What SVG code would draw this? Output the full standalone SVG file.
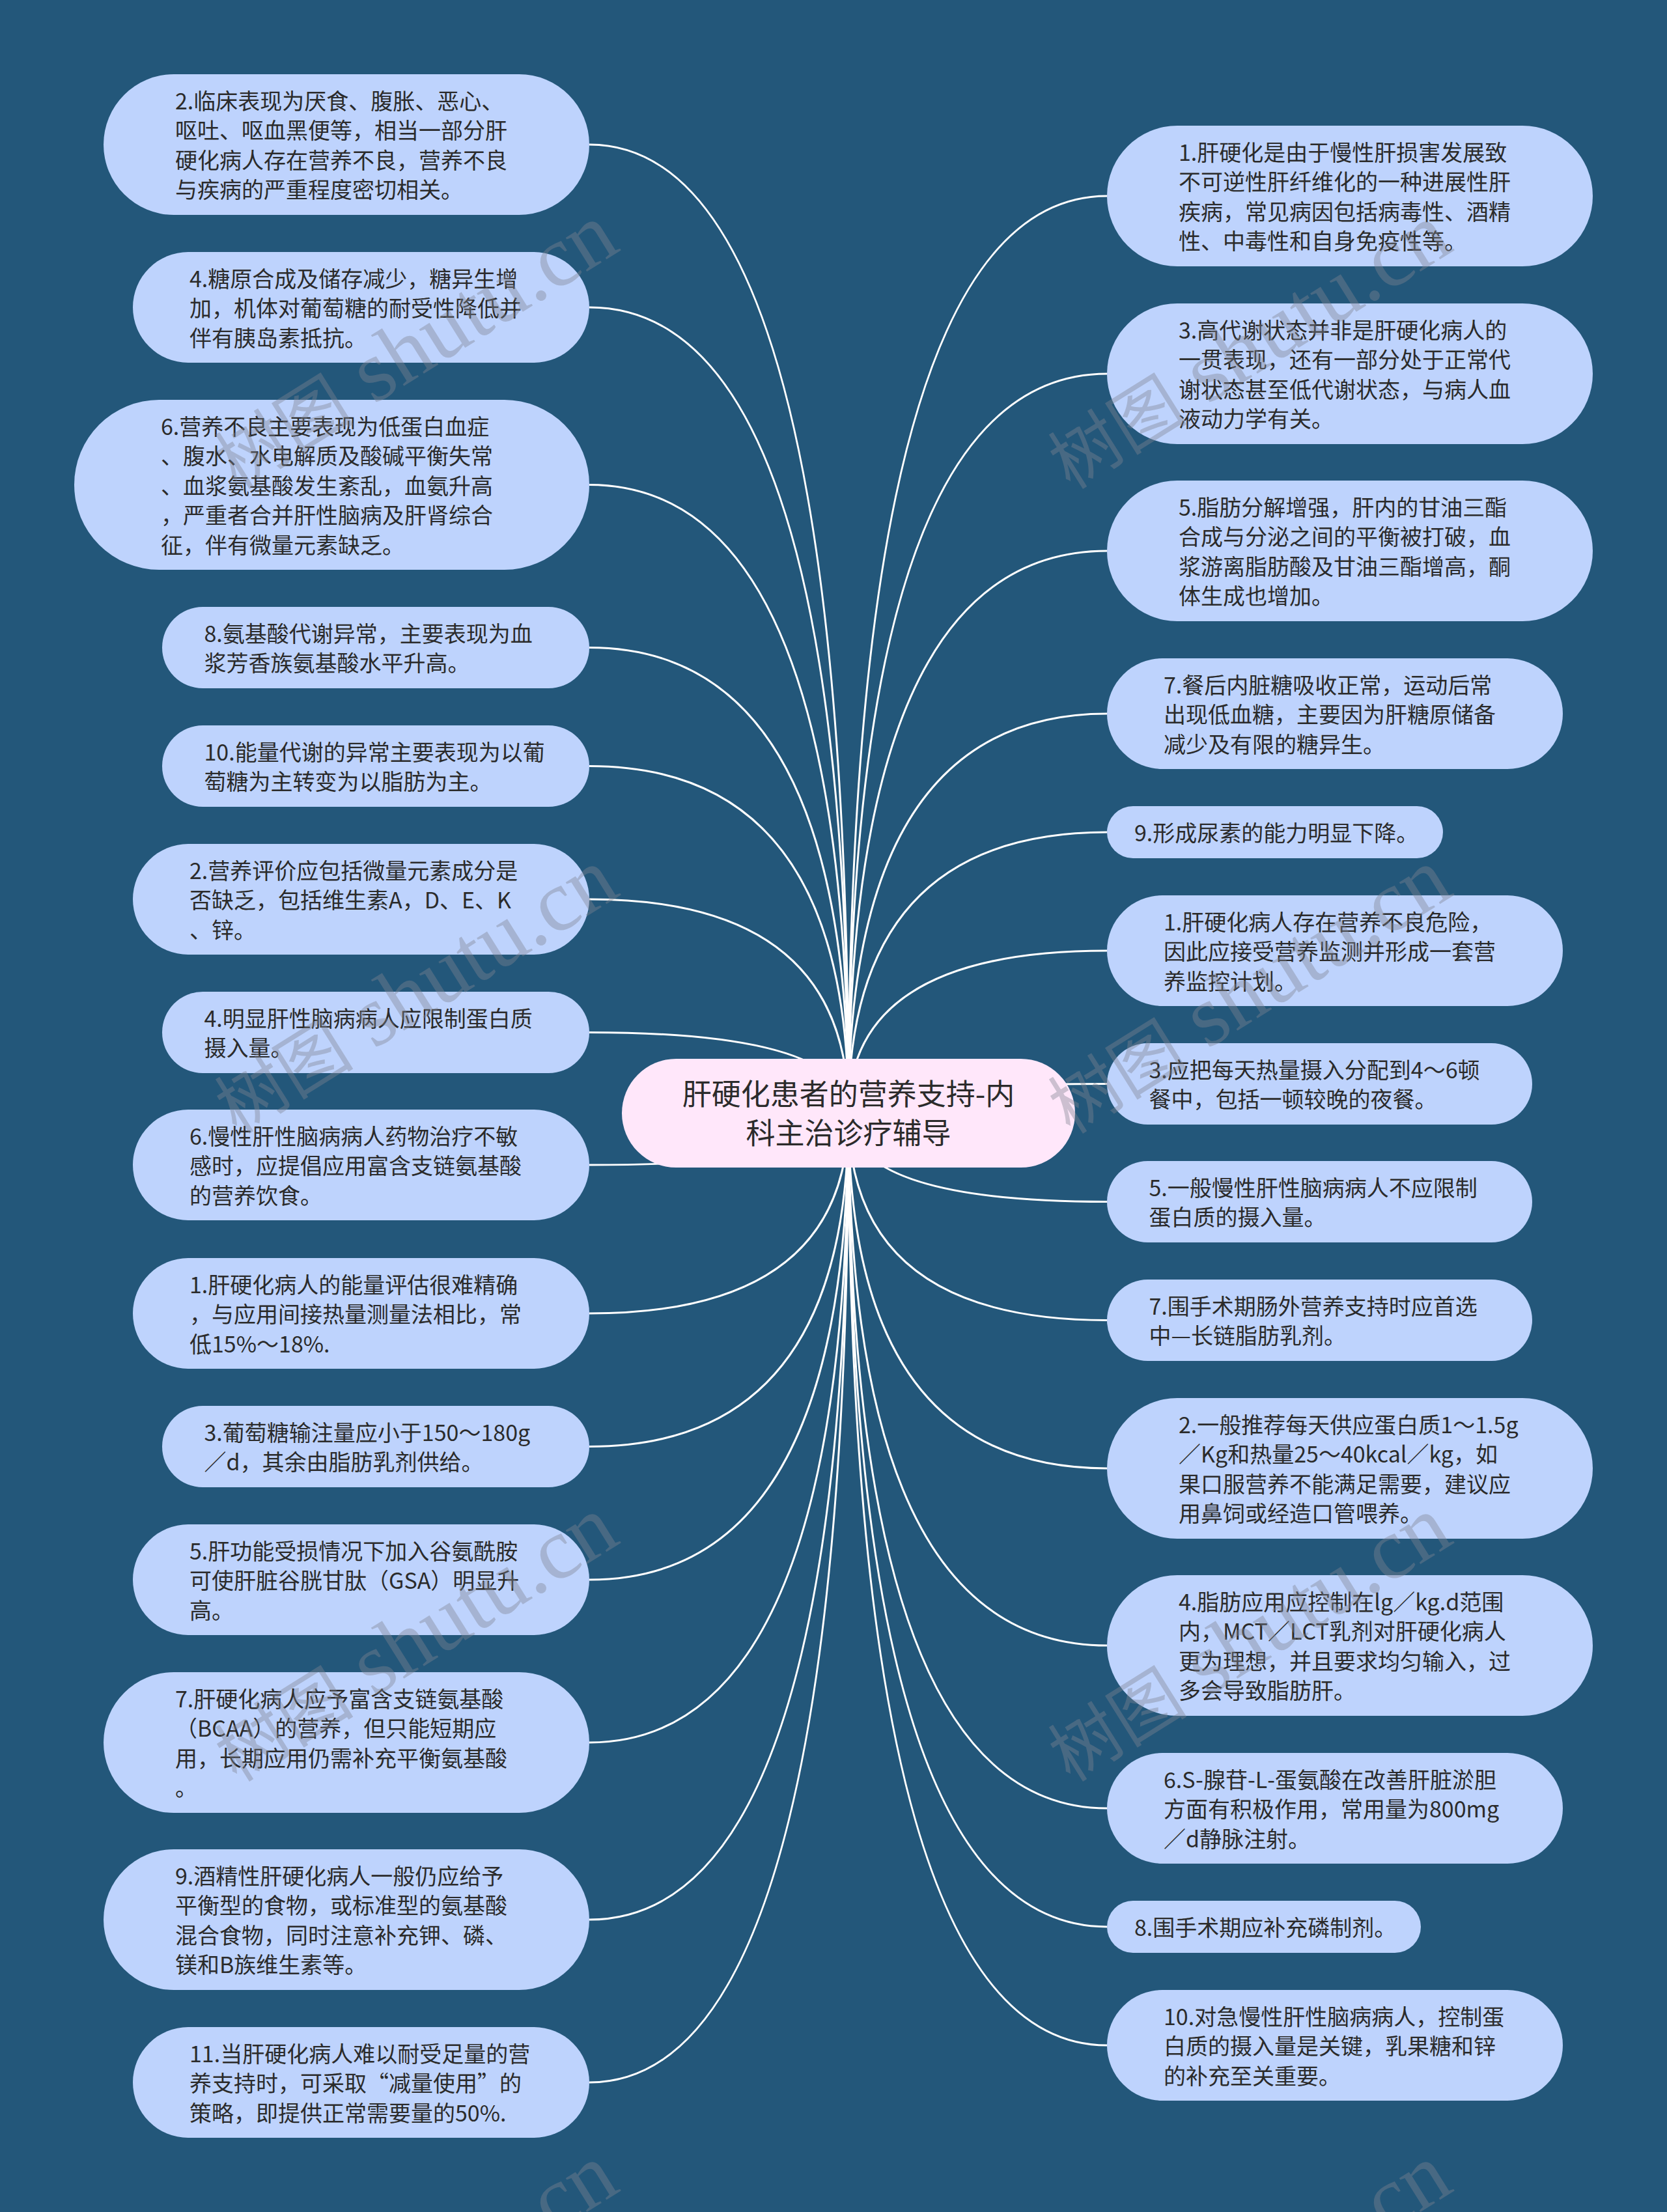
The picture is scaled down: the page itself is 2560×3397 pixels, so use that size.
<svg xmlns="http://www.w3.org/2000/svg" width="2560" height="3397" viewBox="0 0 2560 3397">
<style>
.bg{fill:#23577A}
.n rect{fill:#BED3FD}
.n text{font-family:"Noto Sans CJK SC","Noto Sans",sans-serif;font-size:34px;fill:#2b2b2b}
.c rect{fill:#FFE7FA}
.c text{font-family:"Noto Sans CJK SC","Noto Sans",sans-serif;font-size:45px;fill:#2b2b2b;text-anchor:middle}
.e path{fill:none;stroke:#FFFFFF;stroke-width:3}
.wm text{font-family:"Liberation Serif","Noto Sans CJK SC",serif;font-size:107px;fill:#7f8590;fill-opacity:0.4}
.wm .l{font-size:134px}
</style>
<rect class="bg" x="0" y="0" width="2560" height="3397"/>
<g id="connectors" class="e">
<path d="M1303 1709.5 Q1303 222 905 222"/>
<path d="M1303 1709.5 Q1303 472 905 472"/>
<path d="M1303 1709.5 Q1303 744.5 905 744.5"/>
<path d="M1303 1709.5 Q1303 994.5 905 994.5"/>
<path d="M1303 1709.5 Q1303 1176.5 905 1176.5"/>
<path d="M1303 1709.5 Q1303 1381 905 1381"/>
<path d="M1303 1709.5 Q1303 1585.5 905 1585.5"/>
<path d="M1303 1709.5 Q1303 1789 905 1789"/>
<path d="M1303 1709.5 Q1303 2017 905 2017"/>
<path d="M1303 1709.5 Q1303 2221.5 905 2221.5"/>
<path d="M1303 1709.5 Q1303 2426 905 2426"/>
<path d="M1303 1709.5 Q1303 2676 905 2676"/>
<path d="M1303 1709.5 Q1303 2948 905 2948"/>
<path d="M1303 1709.5 Q1303 3198 905 3198"/>
<path d="M1303 1709.5 Q1303 301 1700 301"/>
<path d="M1303 1709.5 Q1303 574 1700 574"/>
<path d="M1303 1709.5 Q1303 846 1700 846"/>
<path d="M1303 1709.5 Q1303 1096 1700 1096"/>
<path d="M1303 1709.5 Q1303 1278 1700 1278"/>
<path d="M1303 1709.5 Q1303 1460 1700 1460"/>
<path d="M1303 1709.5 Q1303 1664.5 1700 1664.5"/>
<path d="M1303 1709.5 Q1303 1845.5 1700 1845.5"/>
<path d="M1303 1709.5 Q1303 2027.5 1700 2027.5"/>
<path d="M1303 1709.5 Q1303 2255 1700 2255"/>
<path d="M1303 1709.5 Q1303 2527 1700 2527"/>
<path d="M1303 1709.5 Q1303 2777 1700 2777"/>
<path d="M1303 1709.5 Q1303 2959 1700 2959"/>
<path d="M1303 1709.5 Q1303 3141 1700 3141"/>
</g>
<g id="center" class="c">
<rect x="955" y="1626" width="696" height="167" rx="83.5"/>
<text><tspan x="1303" y="1697">肝硬化患者的营养支持-内</tspan><tspan x="1303" y="1757">科主治诊疗辅导</tspan></text>
</g>
<g id="L1" class="n"><rect x="159" y="114" width="746" height="216" rx="108"/>
<text><tspan x="269" y="167.5">2.临床表现为厌食、腹胀、恶心、</tspan><tspan x="269" y="213">呕吐、呕血黑便等，相当一部分肝</tspan><tspan x="269" y="258.5">硬化病人存在营养不良，营养不良</tspan><tspan x="269" y="304">与疾病的严重程度密切相关。</tspan></text></g>
<g id="L2" class="n"><rect x="204" y="387" width="701" height="170" rx="85"/>
<text><tspan x="291" y="440.5">4.糖原合成及储存减少，糖异生增</tspan><tspan x="291" y="486">加，机体对葡萄糖的耐受性降低并</tspan><tspan x="291" y="531.5">伴有胰岛素抵抗。</tspan></text></g>
<g id="L3" class="n"><rect x="114" y="614" width="791" height="261" rx="130.5"/>
<text><tspan x="247" y="667.5">6.营养不良主要表现为低蛋白血症</tspan><tspan x="247" y="713">、腹水、水电解质及酸碱平衡失常</tspan><tspan x="247" y="758.5">、血浆氨基酸发生紊乱，血氨升高</tspan><tspan x="247" y="804">，严重者合并肝性脑病及肝肾综合</tspan><tspan x="247" y="849.5">征，伴有微量元素缺乏。</tspan></text></g>
<g id="L4" class="n"><rect x="249" y="932" width="656" height="125" rx="62.5"/>
<text><tspan x="313.5" y="985.5">8.氨基酸代谢异常，主要表现为血</tspan><tspan x="313.5" y="1031">浆芳香族氨基酸水平升高。</tspan></text></g>
<g id="L5" class="n"><rect x="249" y="1114" width="656" height="125" rx="62.5"/>
<text><tspan x="313.5" y="1167.5">10.能量代谢的异常主要表现为以葡</tspan><tspan x="313.5" y="1213">萄糖为主转变为以脂肪为主。</tspan></text></g>
<g id="L6" class="n"><rect x="204" y="1296" width="701" height="170" rx="85"/>
<text><tspan x="291" y="1349.5">2.营养评价应包括微量元素成分是</tspan><tspan x="291" y="1395">否缺乏，包括维生素A，D、E、K</tspan><tspan x="291" y="1440.5">、锌。</tspan></text></g>
<g id="L7" class="n"><rect x="249" y="1523" width="656" height="125" rx="62.5"/>
<text><tspan x="313.5" y="1576.5">4.明显肝性脑病病人应限制蛋白质</tspan><tspan x="313.5" y="1622">摄入量。</tspan></text></g>
<g id="L8" class="n"><rect x="204" y="1704" width="701" height="170" rx="85"/>
<text><tspan x="291" y="1757.5">6.慢性肝性脑病病人药物治疗不敏</tspan><tspan x="291" y="1803">感时，应提倡应用富含支链氨基酸</tspan><tspan x="291" y="1848.5">的营养饮食。</tspan></text></g>
<g id="L9" class="n"><rect x="204" y="1932" width="701" height="170" rx="85"/>
<text><tspan x="291" y="1985.5">1.肝硬化病人的能量评估很难精确</tspan><tspan x="291" y="2031">，与应用间接热量测量法相比，常</tspan><tspan x="291" y="2076.5">低15%～18%.</tspan></text></g>
<g id="L10" class="n"><rect x="249" y="2159" width="656" height="125" rx="62.5"/>
<text><tspan x="313.5" y="2212.5">3.葡萄糖输注量应小于150～180g</tspan><tspan x="313.5" y="2258">／d，其余由脂肪乳剂供给。</tspan></text></g>
<g id="L11" class="n"><rect x="204" y="2341" width="701" height="170" rx="85"/>
<text><tspan x="291" y="2394.5">5.肝功能受损情况下加入谷氨酰胺</tspan><tspan x="291" y="2440">可使肝脏谷胱甘肽（GSA）明显升</tspan><tspan x="291" y="2485.5">高。</tspan></text></g>
<g id="L12" class="n"><rect x="159" y="2568" width="746" height="216" rx="108"/>
<text><tspan x="269" y="2621.5">7.肝硬化病人应予富含支链氨基酸</tspan><tspan x="269" y="2667">（BCAA）的营养，但只能短期应</tspan><tspan x="269" y="2712.5">用，长期应用仍需补充平衡氨基酸</tspan><tspan x="269" y="2758">。</tspan></text></g>
<g id="L13" class="n"><rect x="159" y="2840" width="746" height="216" rx="108"/>
<text><tspan x="269" y="2893.5">9.酒精性肝硬化病人一般仍应给予</tspan><tspan x="269" y="2939">平衡型的食物，或标准型的氨基酸</tspan><tspan x="269" y="2984.5">混合食物，同时注意补充钾、磷、</tspan><tspan x="269" y="3030">镁和B族维生素等。</tspan></text></g>
<g id="L14" class="n"><rect x="204" y="3113" width="701" height="170" rx="85"/>
<text><tspan x="291" y="3166.5">11.当肝硬化病人难以耐受足量的营</tspan><tspan x="291" y="3212">养支持时，可采取“减量使用”的</tspan><tspan x="291" y="3257.5">策略，即提供正常需要量的50%.</tspan></text></g>
<g id="R1" class="n"><rect x="1700" y="193" width="746" height="216" rx="108"/>
<text><tspan x="1810" y="246.5">1.肝硬化是由于慢性肝损害发展致</tspan><tspan x="1810" y="292">不可逆性肝纤维化的一种进展性肝</tspan><tspan x="1810" y="337.5">疾病，常见病因包括病毒性、酒精</tspan><tspan x="1810" y="383">性、中毒性和自身免疫性等。</tspan></text></g>
<g id="R2" class="n"><rect x="1700" y="466" width="746" height="216" rx="108"/>
<text><tspan x="1810" y="519.5">3.高代谢状态并非是肝硬化病人的</tspan><tspan x="1810" y="565">一贯表现，还有一部分处于正常代</tspan><tspan x="1810" y="610.5">谢状态甚至低代谢状态，与病人血</tspan><tspan x="1810" y="656">液动力学有关。</tspan></text></g>
<g id="R3" class="n"><rect x="1700" y="738" width="746" height="216" rx="108"/>
<text><tspan x="1810" y="791.5">5.脂肪分解增强，肝内的甘油三酯</tspan><tspan x="1810" y="837">合成与分泌之间的平衡被打破，血</tspan><tspan x="1810" y="882.5">浆游离脂肪酸及甘油三酯增高，酮</tspan><tspan x="1810" y="928">体生成也增加。</tspan></text></g>
<g id="R4" class="n"><rect x="1700" y="1011" width="700" height="170" rx="85"/>
<text><tspan x="1787" y="1064.5">7.餐后内脏糖吸收正常，运动后常</tspan><tspan x="1787" y="1110">出现低血糖，主要因为肝糖原储备</tspan><tspan x="1787" y="1155.5">减少及有限的糖异生。</tspan></text></g>
<g id="R5" class="n"><rect x="1700" y="1238" width="516" height="80" rx="40"/>
<text><tspan x="1742" y="1291.5">9.形成尿素的能力明显下降。</tspan></text></g>
<g id="R6" class="n"><rect x="1700" y="1375" width="700" height="170" rx="85"/>
<text><tspan x="1787" y="1428.5">1.肝硬化病人存在营养不良危险，</tspan><tspan x="1787" y="1474">因此应接受营养监测并形成一套营</tspan><tspan x="1787" y="1519.5">养监控计划。</tspan></text></g>
<g id="R7" class="n"><rect x="1700" y="1602" width="653" height="125" rx="62.5"/>
<text><tspan x="1764.5" y="1655.5">3.应把每天热量摄入分配到4～6顿</tspan><tspan x="1764.5" y="1701">餐中，包括一顿较晚的夜餐。</tspan></text></g>
<g id="R8" class="n"><rect x="1700" y="1783" width="653" height="125" rx="62.5"/>
<text><tspan x="1764.5" y="1836.5">5.一般慢性肝性脑病病人不应限制</tspan><tspan x="1764.5" y="1882">蛋白质的摄入量。</tspan></text></g>
<g id="R9" class="n"><rect x="1700" y="1965" width="653" height="125" rx="62.5"/>
<text><tspan x="1764.5" y="2018.5">7.围手术期肠外营养支持时应首选</tspan><tspan x="1764.5" y="2064">中—长链脂肪乳剂。</tspan></text></g>
<g id="R10" class="n"><rect x="1700" y="2147" width="746" height="216" rx="108"/>
<text><tspan x="1810" y="2200.5">2.一般推荐每天供应蛋白质1～1.5g</tspan><tspan x="1810" y="2246">／Kg和热量25～40kcal／kg，如</tspan><tspan x="1810" y="2291.5">果口服营养不能满足需要，建议应</tspan><tspan x="1810" y="2337">用鼻饲或经造口管喂养。</tspan></text></g>
<g id="R11" class="n"><rect x="1700" y="2419" width="746" height="216" rx="108"/>
<text><tspan x="1810" y="2472.5">4.脂肪应用应控制在lg／kg.d范围</tspan><tspan x="1810" y="2518">内，MCT／LCT乳剂对肝硬化病人</tspan><tspan x="1810" y="2563.5">更为理想，并且要求均匀输入，过</tspan><tspan x="1810" y="2609">多会导致脂肪肝。</tspan></text></g>
<g id="R12" class="n"><rect x="1700" y="2692" width="700" height="170" rx="85"/>
<text><tspan x="1787" y="2745.5">6.S-腺苷-L-蛋氨酸在改善肝脏淤胆</tspan><tspan x="1787" y="2791">方面有积极作用，常用量为800mg</tspan><tspan x="1787" y="2836.5">／d静脉注射。</tspan></text></g>
<g id="R13" class="n"><rect x="1700" y="2919" width="482" height="80" rx="40"/>
<text><tspan x="1742" y="2972.5">8.围手术期应补充磷制剂。</tspan></text></g>
<g id="R14" class="n"><rect x="1700" y="3056" width="700" height="170" rx="85"/>
<text><tspan x="1787" y="3109.5">10.对急慢性肝性脑病病人，控制蛋</tspan><tspan x="1787" y="3155">白质的摄入量是关键，乳果糖和锌</tspan><tspan x="1787" y="3200.5">的补充至关重要。</tspan></text></g>
<g id="watermark" class="wm">
<text transform="translate(649 530) rotate(-32)" x="-360" y="38">树图<tspan class="l"> shutu.cn</tspan></text>
<text transform="translate(1929 530) rotate(-32)" x="-360" y="38">树图<tspan class="l"> shutu.cn</tspan></text>
<text transform="translate(649 1520) rotate(-32)" x="-360" y="38">树图<tspan class="l"> shutu.cn</tspan></text>
<text transform="translate(1929 1520) rotate(-32)" x="-360" y="38">树图<tspan class="l"> shutu.cn</tspan></text>
<text transform="translate(649 2515) rotate(-32)" x="-360" y="38">树图<tspan class="l"> shutu.cn</tspan></text>
<text transform="translate(1929 2515) rotate(-32)" x="-360" y="38">树图<tspan class="l"> shutu.cn</tspan></text>
<text transform="translate(649 3510) rotate(-32)" x="-360" y="38">树图<tspan class="l"> shutu.cn</tspan></text>
<text transform="translate(1929 3510) rotate(-32)" x="-360" y="38">树图<tspan class="l"> shutu.cn</tspan></text>
</g>
</svg>
